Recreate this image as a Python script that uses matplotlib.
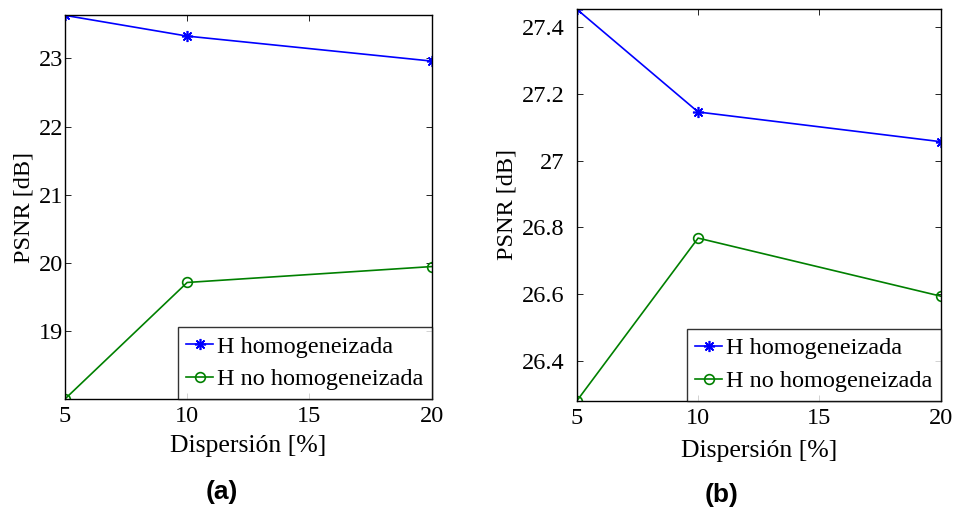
import matplotlib.pyplot as plt

# Dispersion levels (%)
dispersion = [5, 10, 20]
xticks = [5, 10, 15, 20]

# Panel (a)
psnr_a_homog = [23.63, 23.326, 22.96]
psnr_a_nohomog = [18.01, 19.717, 19.95]

# Panel (b)
psnr_b_homog = [27.454, 27.146, 27.057]
psnr_b_nohomog = [26.28, 26.768, 26.594]

labels = ["H homogeneizada", "H no homogeneizada"]

plt.rcParams['font.family'] = ['Liberation Serif', 'DejaVu Serif']

fig = plt.figure(figsize=(9.55, 5.12), dpi=100)
ax_a = fig.add_axes([0.068, 0.2207, 0.384, 0.75])
ax_b = fig.add_axes([0.604, 0.217, 0.381, 0.7656])


def draw_panel(ax, homog, nohomog, ylim, yticks, yticklabels, ypad, xlpad):
    ax.plot(dispersion, homog, color='#0000ff', marker=(8, 2, 0), markersize=8,
            markeredgewidth=1.2, linewidth=1.2, label=labels[0])
    ax.plot(dispersion, nohomog, color='#008000', marker='o', markersize=7,
            markerfacecolor='none', markeredgewidth=1.2, linewidth=1.2,
            label=labels[1])
    ax.set_xlim(5, 20)
    ax.set_ylim(*ylim)
    ax.set_xticks(xticks)
    ax.set_yticks(yticks)
    ax.set_yticklabels(yticklabels)
    ax.tick_params(direction='in', top=True, right=True, labelsize=17.5,
                   length=4, width=0.6)
    ax.tick_params(axis='y', pad=ypad)
    ax.tick_params(axis='x', pad=5)
    for s in ax.spines.values():
        s.set_linewidth(1.0)
    ax.set_xlabel("Dispersión [%]", fontsize=18.5, labelpad=xlpad)
    ax.set_ylabel("PSNR [dB]", fontsize=17.5, labelpad=3)
    leg = ax.legend(loc='lower right', fontsize=17.5, frameon=True, fancybox=False,
                    borderaxespad=0, handlelength=1.1, handletextpad=0.15,
                    borderpad=0.35, labelspacing=0.45)
    leg.get_frame().set_edgecolor('black')
    leg.get_frame().set_linewidth(1.0)


draw_panel(ax_a, psnr_a_homog, psnr_a_nohomog, (18.01, 23.635),
           [19, 20, 21, 22, 23], ['19', '20', '21', '22', '23'], 1, 6)
draw_panel(ax_b, psnr_b_homog, psnr_b_nohomog, (26.28, 27.455),
           [26.4, 26.6, 26.8, 27.0, 27.2, 27.4],
           ['26.4', '26.6', '26.8', '27', '27.2', '27.4'], 9, 8)

fig.text(222 / 955, 1 - 492 / 512, "(a)", fontsize=19, fontweight='bold',
         family='Liberation Sans', ha='center', va='center')
fig.text(722 / 955, 1 - 495 / 512, "(b)", fontsize=19, fontweight='bold',
         family='Liberation Sans', ha='center', va='center')

fig.savefig('out.png', dpi=100)
